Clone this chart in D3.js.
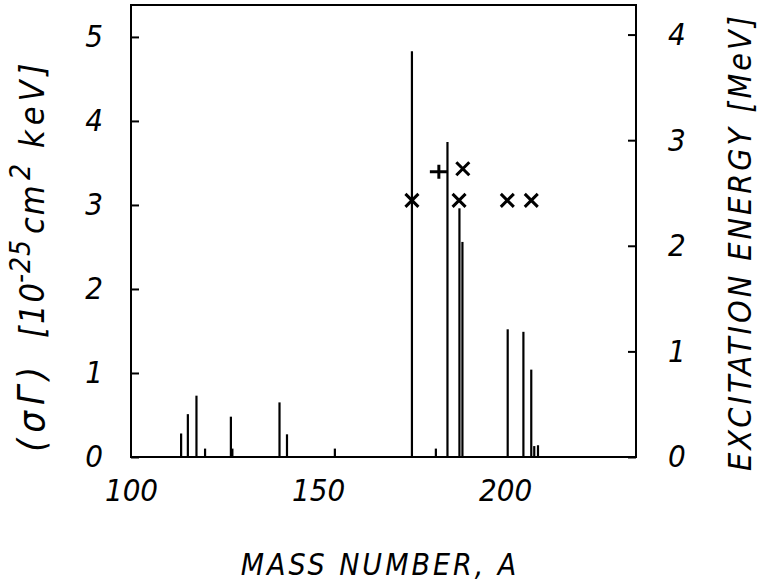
<!DOCTYPE html>
<html>
<head>
<meta charset="utf-8">
<script src="https://cdn.jsdelivr.net/npm/d3@7"></script>
<style>
  body { margin: 0; background: #fff; }
  svg text { font-family: "Liberation Sans Narrow", "DejaVu Sans Condensed", sans-serif; font-style: italic; fill: #000; }
</style>
</head>
<body>
<div id="container"></div>
<script>
// bar positions (mass number) and heights (sigma*Gamma, 1e-25 cm^2 keV)
var barA = [113.4, 115.2, 117.5, 119.8, 126.7, 127.1, 139.7, 141.7, 154.5,
            175.1, 181.5, 184.6, 187.8, 188.6, 200.7, 204.9, 207.0, 207.8, 208.8];
var barSigma = [0.28, 0.51, 0.73, 0.10, 0.48, 0.10, 0.65, 0.27, 0.10,
                4.83, 0.10, 3.75, 2.96, 2.56, 1.52, 1.49, 1.04, 0.13, 0.14];
// excitation energies (MeV), crosses and plus
var crossA = [175.1, 187.7, 200.6, 207.0, 188.7];
var crossE = [2.43, 2.43, 2.43, 2.43, 2.73];
var plusA = [182.3];
var plusE = [2.70];
// tick labels
var xTicks = [100, 150, 200];
var yLeftTicks = [0, 1, 2, 3, 4, 5];
var yRightTicks = [0, 1, 2, 3, 4];

var W = 758, H = 585;
var frame = {left: 131, right: 636, top: 5, bottom: 457};

var svg = d3.select('#container').append('svg')
    .attr('width', W)
    .attr('height', H);

/* scales */
var xScale = d3.scaleLinear().domain([100, 235]).range([frame.left, frame.right]);
var yLeft = d3.scaleLinear().domain([0, 5.38]).range([frame.bottom, frame.top]);
var yRight = d3.scaleLinear().domain([0, 4.28]).range([frame.bottom, frame.top]);

/* axes, ticks pointing inward */
var gl = svg.append('g')
    .attr('transform', 'translate(' + frame.left + ',0)')
    .call(d3.axisLeft(yLeft).tickValues(yLeftTicks).tickSize(-8).tickPadding(28).tickFormat(d3.format('d')));
var gr = svg.append('g')
    .attr('transform', 'translate(' + frame.right + ',0)')
    .call(d3.axisRight(yRight).tickValues(yRightTicks).tickSize(-8).tickPadding(32).tickFormat(d3.format('d')));
var gb = svg.append('g')
    .attr('transform', 'translate(0,' + frame.bottom + ')')
    .call(d3.axisBottom(xScale).tickValues(xTicks).tickSize(0).tickPadding(22).tickFormat(d3.format('d')));

[gl, gr, gb].forEach(function(g) {
    g.select('.domain').remove();
    g.selectAll('line').attr('stroke', '#000').attr('stroke-width', 2);
    g.selectAll('text').attr('font-size', 31).attr('font-family', null);
});

/* frame */
svg.append('rect')
    .attr('x', frame.left).attr('y', frame.top)
    .attr('width', frame.right - frame.left)
    .attr('height', frame.bottom - frame.top)
    .attr('fill', 'none')
    .attr('stroke', '#000')
    .attr('stroke-width', 2);

/* bars */
svg.selectAll('line.bar').data(barA)
    .enter().append('line')
    .attr('class', 'bar')
    .attr('x1', d => xScale(d)).attr('x2', d => xScale(d))
    .attr('y1', yLeft(0))
    .attr('y2', (d, i) => yLeft(barSigma[i]))
    .attr('stroke', '#000')
    .attr('stroke-width', 2.2);

/* crosses */
var cs = 6.5;
svg.selectAll('path.cross').data(crossA)
    .enter().append('path')
    .attr('class', 'cross')
    .attr('transform', (d, i) => 'translate(' + xScale(d) + ',' + yRight(crossE[i]) + ')')
    .attr('d', 'M' + (-cs) + ',' + (-cs) + 'L' + cs + ',' + cs + 'M' + (-cs) + ',' + cs + 'L' + cs + ',' + (-cs))
    .attr('fill', 'none')
    .attr('stroke', '#000')
    .attr('stroke-width', 3);

/* plus */
svg.selectAll('path.plus').data(plusA)
    .enter().append('path')
    .attr('class', 'plus')
    .attr('transform', (d, i) => 'translate(' + xScale(d) + ',' + yRight(plusE[i]) + ')')
    .attr('d', 'M-9,0L9,0M0,-7L0,7')
    .attr('fill', 'none')
    .attr('stroke', '#000')
    .attr('stroke-width', 3);

/* axis titles */
svg.append('text')
    .attr('x', 380).attr('y', 575)
    .attr('text-anchor', 'middle')
    .attr('font-size', 30)
    .attr('letter-spacing', 3)
    .text('MASS NUMBER, A');

// left title, pieces placed along the rotated axis
var lg = svg.append('g').attr('transform', 'translate(44,0) rotate(-90)');
lg.append('text').attr('x', -452).attr('y', 0).attr('font-size', 38).attr('letter-spacing', 6)
    .attr('font-family', 'Liberation Serif, serif').text('(σΓ)');
lg.append('text').attr('x', -338).attr('y', 0).attr('font-size', 34).attr('letter-spacing', 2).text('[10');
lg.append('text').attr('x', -283).attr('y', -14).attr('font-size', 28).attr('letter-spacing', 1).text('-25');
lg.append('text').attr('x', -234).attr('y', 0).attr('font-size', 34).attr('letter-spacing', 2).text('cm');
lg.append('text').attr('x', -180).attr('y', -14).attr('font-size', 28).text('2');
lg.append('text').attr('x', -148).attr('y', 0).attr('font-size', 34).attr('letter-spacing', 5).text('keV]');

svg.append('text')
    .attr('transform', 'translate(751,242) rotate(-90)')
    .attr('text-anchor', 'middle')
    .attr('font-size', 32)
    .attr('letter-spacing', 3)
    .text('EXCITATION ENERGY [MeV]');
</script>
</body>
</html>
